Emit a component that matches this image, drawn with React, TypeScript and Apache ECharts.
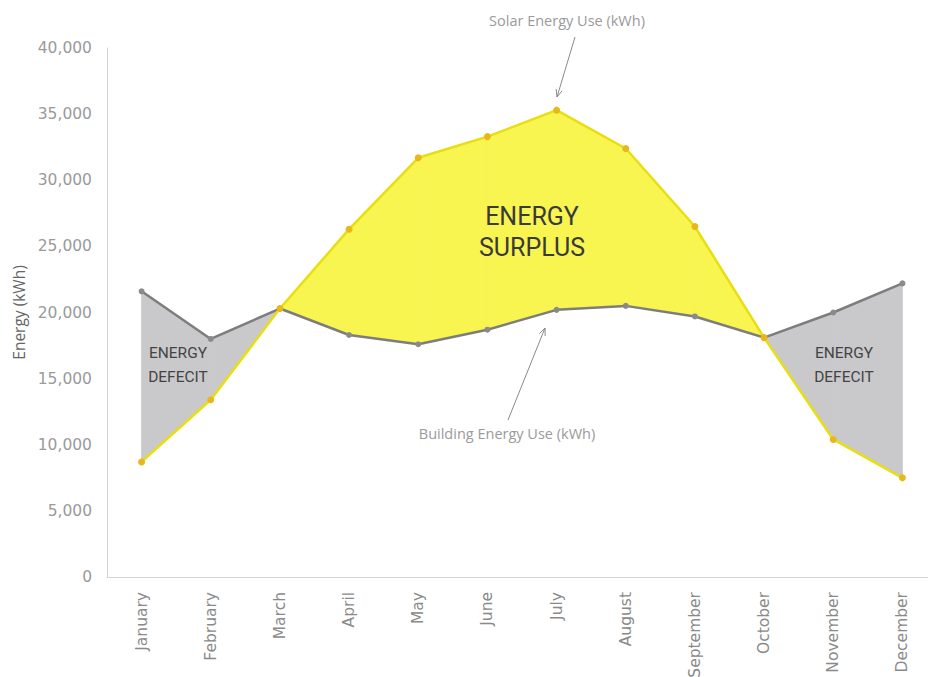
import React, { useEffect, useRef } from "react";
import * as echarts from "echarts";

const months = [
  "January", "February", "March", "April", "May", "June",
  "July", "August", "September", "October", "November", "December",
];
const building = [21600, 18000, 20300, 18300, 17600, 18700, 20200, 20500, 19700, 18100, 20000, 22200];
const solar = [8700, 13400, 20300, 26300, 31700, 33300, 35300, 32400, 26500, 18100, 10400, 7500];
const yMin = 0;
const yMax = 40000;
const yStep = 5000;

const YELLOW_FILL = "#f8f450";
const GREY_FILL = "#c9c9cb";

export default function App() {
  const ref = useRef<HTMLDivElement>(null);

  useEffect(() => {
    if (!ref.current) return;
    const chart = echarts.init(ref.current, undefined, { renderer: "svg" });

    const segData = months.slice(0, -1).map((_, i) => [i, building[i], solar[i], building[i + 1], solar[i + 1]]);

    const arrowHead = (tx: number, ty: number, fx: number, fy: number) => {
      const ang = Math.atan2(ty - fy, tx - fx);
      const len = 8;
      const spread = 0.4;
      return [
        [tx - len * Math.cos(ang - spread), ty - len * Math.sin(ang - spread)],
        [tx, ty],
        [tx - len * Math.cos(ang + spread), ty - len * Math.sin(ang + spread)],
      ];
    };

    const annColor = "#9a9a9a";

    chart.setOption({
      animation: false,
      backgroundColor: "#ffffff",
      grid: { left: 107, top: 48, width: 830, height: 529, outerBoundsMode: "none", containLabel: false },
      xAxis: {
        type: "category",
        data: months,
        boundaryGap: true,
        axisLine: { show: true, lineStyle: { color: "#d4d4d4", width: 1 } },
        axisTick: { show: false },
        axisLabel: {
          rotate: 90,
          margin: 15,
          color: "#8a8a8a",
          fontFamily: "DejaVu Sans",
          fontSize: 15.5,
          interval: 0,
        },
        splitLine: { show: false },
      },
      yAxis: {
        type: "value",
        min: yMin,
        max: yMax,
        interval: yStep,
        name: "Energy (kWh)",
        nameLocation: "middle",
        nameGap: 80,
        nameTextStyle: { color: "#666666", fontFamily: "Open Sans", fontSize: 15.5 },
        axisLine: { show: true, lineStyle: { color: "#d4d4d4", width: 1 } },
        axisTick: { show: false },
        splitLine: { show: false },
        axisLabel: {
          margin: 15,
          color: "#9a9a9a",
          fontFamily: "DejaVu Sans",
          fontSize: 15.5,
          formatter: (v: number) => v.toLocaleString("en-US"),
        },
      },
      series: [
        {
          type: "custom",
          z: 1,
          silent: true,
          data: segData,
          encode: { x: 0, y: [1, 2, 3, 4] },
          renderItem: (params: any, api: any) => {
            const i = params.dataIndex;
            const b0 = api.coord([i, building[i]]);
            const b1 = api.coord([i + 1, building[i + 1]]);
            const s1 = api.coord([i + 1, solar[i + 1]]);
            const s0 = api.coord([i, solar[i]]);
            const surplus = solar[i] + solar[i + 1] > building[i] + building[i + 1];
            const c = surplus ? YELLOW_FILL : GREY_FILL;
            return {
              type: "polygon",
              shape: { points: [b0, b1, s1, s0] },
              style: { fill: c, stroke: c, lineWidth: 0.8 },
            };
          },
        },
        {
          name: "Building Energy Use (kWh)",
          type: "line",
          z: 3,
          data: building,
          symbol: "circle",
          symbolSize: 6,
          lineStyle: { color: "#7d7d7d", width: 2.5 },
          itemStyle: { color: "#8a8a8a" },
        },
        {
          name: "Solar Energy Use (kWh)",
          type: "line",
          z: 4,
          data: solar,
          symbol: "circle",
          symbolSize: 7,
          lineStyle: { color: "#e8de10", width: 2.5 },
          itemStyle: { color: "#e8b81a" },
        },
      ],
      graphic: [
        {
          id: "t1", type: "text", z: 10,
          style: { text: "ENERGY", x: 532, y: 216, align: "center", verticalAlign: "middle", fill: "#3a3a3a", font: "400 25px Roboto" },
        },
        {
          id: "t2", type: "text", z: 10,
          style: { text: "SURPLUS", x: 532, y: 247, align: "center", verticalAlign: "middle", fill: "#3a3a3a", font: "400 25px Roboto" },
        },
        {
          id: "d1", type: "text", z: 10,
          style: { text: "ENERGY\nDEFECIT", x: 178, y: 365, align: "center", verticalAlign: "middle", fill: "#444444", font: "400 15.5px Roboto", lineHeight: 24 },
        },
        {
          id: "d2", type: "text", z: 10,
          style: { text: "ENERGY\nDEFECIT", x: 844, y: 365, align: "center", verticalAlign: "middle", fill: "#444444", font: "400 15.5px Roboto", lineHeight: 24 },
        },
        {
          id: "a1", type: "text", z: 10,
          style: { text: "Solar Energy Use (kWh)", x: 567, y: 20, align: "center", verticalAlign: "middle", fill: annColor, font: "400 14.5px 'Open Sans'" },
        },
        {
          id: "a1l", type: "line", z: 10,
          shape: { x1: 575, y1: 37, x2: 557, y2: 97 },
          style: { stroke: "#8a8a8a", lineWidth: 1 },
        },
        {
          id: "a1h", type: "polyline", z: 10,
          shape: { points: arrowHead(557, 97, 575, 37) },
          style: { stroke: "#8a8a8a", lineWidth: 1, fill: null },
        },
        {
          id: "a2", type: "text", z: 10,
          style: { text: "Building Energy Use (kWh)", x: 507, y: 433, align: "center", verticalAlign: "middle", fill: annColor, font: "400 14.5px 'Open Sans'" },
        },
        {
          id: "a2l", type: "line", z: 10,
          shape: { x1: 508, y1: 420, x2: 545, y2: 328 },
          style: { stroke: "#8a8a8a", lineWidth: 1 },
        },
        {
          id: "a2h", type: "polyline", z: 10,
          shape: { points: arrowHead(545, 328, 508, 420) },
          style: { stroke: "#8a8a8a", lineWidth: 1, fill: null },
        },
      ],
    });

    return () => chart.dispose();
  }, []);

  return (
    <div
      ref={ref}
      style={{ position: "fixed", left: 0, top: 0, width: 928, height: 677, background: "#fff" }}
    />
  );
}
